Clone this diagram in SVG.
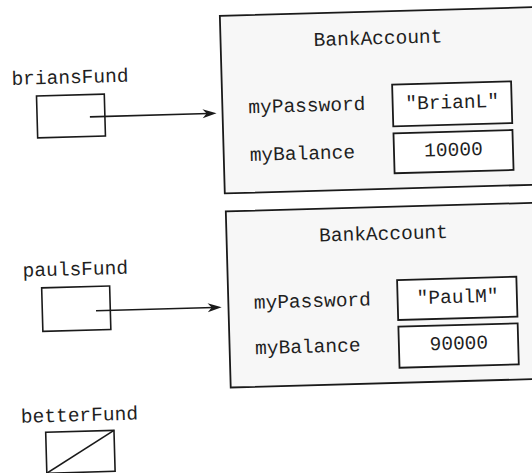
<svg xmlns="http://www.w3.org/2000/svg" width="532" height="473" viewBox="0 0 532 473">
<defs>
<style>
text{font-family:"Liberation Mono","DejaVu Sans Mono",monospace;font-size:19.5px;fill:#1f1f1f}
.mid{text-anchor:middle}
.obj{fill:#f7f7f7;stroke:#1a1a1a;stroke-width:1.8}
.val{fill:#ffffff;stroke:#1a1a1a;stroke-width:1.8}
.ref{fill:#ffffff;stroke:#1a1a1a;stroke-width:1.6}
.conn{fill:none;stroke:#1a1a1a;stroke-width:1.6}
</style>
<marker id="arr" markerUnits="userSpaceOnUse" markerWidth="16" markerHeight="12" viewBox="-15 -6 16 12" refX="-8" refY="0" orient="auto">
<path d="M0,0 L-14,-4.5 L-10,0 L-14,4.5 Z" fill="#1a1a1a"/>
</marker>
</defs>
<rect x="0" y="0" width="532" height="473" fill="#ffffff"/>
<g transform="rotate(-1.6 266 236)">
<g id="acct1">
<rect class="obj" x="226" y="14.7" width="340" height="177.6"/>
<text class="mid" x="383.5" y="47.4">BankAccount</text>
<text x="252" y="112.8">myPassword</text>
<text x="252" y="160.6">myBalance</text>
<rect class="val" x="396.3" y="88.3" width="119" height="41.7"/>
<text class="mid" x="455.8" y="113.5">"BrianL"</text>
<rect class="val" x="396.3" y="136.9" width="119" height="40"/>
<text class="mid" x="455.8" y="161">10000</text>
</g>
<g id="acct2">
<rect class="obj" x="226.5" y="210.3" width="340" height="176.2"/>
<text class="mid" x="383.5" y="243">BankAccount</text>
<text x="252" y="308.4">myPassword</text>
<text x="252" y="353.9">myBalance</text>
<rect class="val" x="395.8" y="283.7" width="119.3" height="40"/>
<text class="mid" x="455.8" y="308.2">"PaulM"</text>
<rect class="val" x="395.8" y="330.4" width="119.3" height="41"/>
<text class="mid" x="455.8" y="354.7">90000</text>
</g>
<g id="briansFund">
<text class="mid" x="74.5" y="77.9">briansFund</text>
<rect class="ref" x="40.5" y="89.6" width="67.8" height="42"/>
</g>
<g id="paulsFund">
<text class="mid" x="74.5" y="269.9">paulsFund</text>
<rect class="ref" x="40.3" y="281.6" width="68" height="43.5"/>
</g>
<g id="betterFund">
<text class="mid" x="74.5" y="415.9">betterFund</text>
<rect class="ref" x="40.3" y="426" width="68.3" height="41"/>
<line class="conn" x1="40.3" y1="467" x2="108.6" y2="426"/>
</g>
<g id="connectors">
<line class="conn" x1="93.3" y1="112" x2="212" y2="112" marker-end="url(#arr)"/>
<line class="conn" x1="94" y1="306" x2="211.7" y2="306" marker-end="url(#arr)"/>
</g>
</g>
</svg>
